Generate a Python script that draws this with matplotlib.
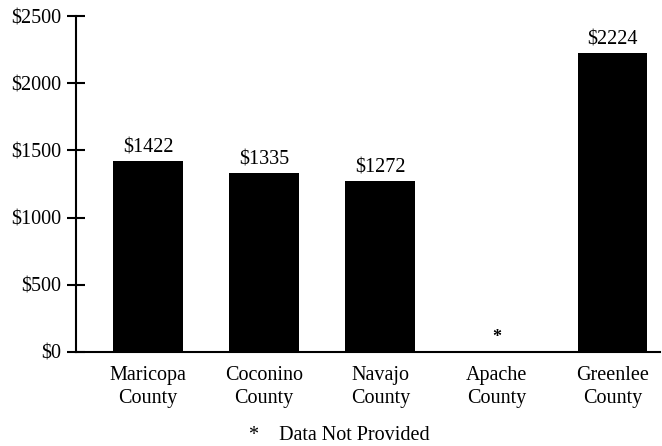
import numpy as np
import matplotlib.pyplot as plt

# county averages, Apache has no data
counties = ['Maricopa\nCounty', 'Coconino\nCounty', 'Navajo\nCounty',
            'Apache\nCounty', 'Greenlee\nCounty']
values = [1422, 1335, 1272, None, 2224]
yticks = [0, 500, 1000, 1500, 2000, 2500]

plt.rcParams['font.family'] = ['Liberation Serif', 'DejaVu Serif']

fig = plt.figure(figsize=(6.62, 4.46), dpi=100)
ax = fig.add_axes([0.115, 0.211, 0.882, 0.753])

x = np.arange(len(counties))
for i, v in enumerate(values):
    if v is None:
        ax.text(i, 110, '*', ha='center', va='center', fontsize=13, fontweight='bold')
        continue
    ax.bar(i, v, width=0.6, color='black')
    ax.text(i, v + 25, '${}'.format(v), ha='center', va='bottom', fontsize=14.5)

ax.set_xlim(-0.62, 4.41)
ax.set_ylim(0, 2500)
ax.set_yticks(yticks)
ax.set_yticklabels(['${}'.format(t) for t in yticks], fontsize=14.5)
ax.set_xticks(x)
ax.set_xticklabels(counties, fontsize=14.5, linespacing=1.3)

for s in ['top', 'right']:
    ax.spines[s].set_visible(False)
ax.spines['left'].set_linewidth(1.5)
ax.spines['bottom'].set_linewidth(1.5)
ax.tick_params(axis='y', direction='inout', length=13, width=1.5, pad=4)
ax.tick_params(axis='x', length=0, pad=10)

fig.text(0.513, 0.024, '*    Data Not Provided', ha='center', va='center', fontsize=14.5)

fig.savefig('out.png', dpi=100)
